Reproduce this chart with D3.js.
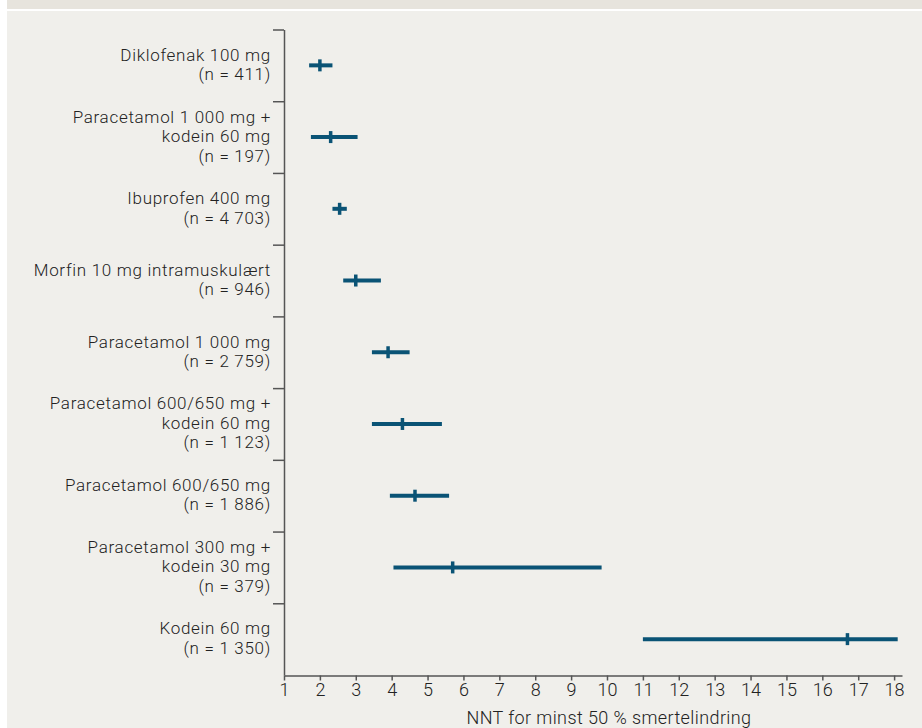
<!DOCTYPE html>
<html>
<head>
<meta charset="utf-8">
<script src="https://cdn.jsdelivr.net/npm/d3@7"></script>
<style>
  html, body { margin: 0; padding: 0; background: #fff; }
  svg text { font-family: Roboto, "Liberation Sans", sans-serif; font-weight: 300; fill: #222; }
</style>
</head>
<body>
<svg id="chart" width="922" height="728"></svg>
<script>
// treatment labels (one entry per line of text)
const labels = [
  ["Diklofenak 100 mg", "(n = 411)"],
  ["Paracetamol 1 000 mg +", "kodein 60 mg", "(n = 197)"],
  ["Ibuprofen 400 mg", "(n = 4 703)"],
  ["Morfin 10 mg intramuskulært", "(n = 946)"],
  ["Paracetamol 1 000 mg", "(n = 2 759)"],
  ["Paracetamol 600/650 mg +", "kodein 60 mg", "(n = 1 123)"],
  ["Paracetamol 600/650 mg", "(n = 1 886)"],
  ["Paracetamol 300 mg +", "kodein 30 mg", "(n = 379)"],
  ["Kodein 60 mg", "(n = 1 350)"]
];
// NNT point estimates and confidence limits
const nnt   = [2.0, 2.3, 2.55, 3.0, 3.9, 4.3, 4.65, 5.7, 16.7];
const lower = [1.7, 1.75, 2.35, 2.65, 3.45, 3.45, 3.95, 4.05, 11.0];
const upper = [2.35, 3.05, 2.75, 3.7, 4.5, 5.4, 5.6, 9.85, 18.1];
const xTicks = d3.range(1, 19);
const xTitle = "NNT for minst 50 % smertelindring";

const rows = labels.map((l, i) => ({ label: l, nnt: nnt[i], lo: lower[i], hi: upper[i] }));

const svg = d3.select("#chart");
const barColor = "#0a5375";
const axisColor = "#555";

// backgrounds
svg.append("rect").attr("x", 7).attr("y", 0).attr("width", 915).attr("height", 9).attr("fill", "#e7e4dd");
svg.append("rect").attr("x", 7).attr("y", 11).attr("width", 915).attr("height", 717).attr("fill", "#f0efeb");

const x = d3.scaleLinear().domain([1, 18.22]).range([284, 902]);
const y = d3.scaleBand().domain(d3.range(rows.length)).range([29.5, 675]);
const yEdge = d3.scaleLinear().domain([0, rows.length]).range([29.5, 675]);

// y axis: line with ticks at the row boundaries
const yAxis = svg.append("g")
  .attr("transform", "translate(284,0)")
  .call(d3.axisLeft(yEdge).tickValues(d3.range(0, rows.length)).tickSize(11).tickSizeOuter(0).tickFormat(""));
yAxis.select(".domain").attr("stroke", axisColor).attr("stroke-width", 1.5);
yAxis.selectAll(".tick line").attr("stroke", axisColor).attr("stroke-width", 1.5);

// x axis
const xAxis = svg.append("g")
  .attr("transform", "translate(0,675.5)")
  .call(d3.axisBottom(x).tickValues(xTicks).tickSize(5).tickSizeOuter(0).tickPadding(3).tickFormat(d3.format("d")));
xAxis.select(".domain").attr("stroke", axisColor).attr("stroke-width", 1.5);
xAxis.selectAll(".tick text")
  .attr("font-size", "18px")
  .attr("font-family", "Roboto, 'Liberation Sans', sans-serif")
  .attr("font-weight", 300)
  .attr("fill", "#222");
xAxis.selectAll(".tick line").attr("stroke", axisColor).attr("stroke-width", 1.5);

svg.append("text")
  .attr("x", 609)
  .attr("y", 724)
  .attr("text-anchor", "middle")
  .attr("font-size", "18px")
  .attr("letter-spacing", "0.4px")
  .text(xTitle);

// row labels
const lineH = 19.5;
const labelG = svg.append("g").selectAll("text").data(rows).join("text")
  .attr("text-anchor", "end")
  .attr("font-size", "17px")
  .attr("letter-spacing", "0.7px")
  .attr("transform", (d, i) => {
    const n = d.label.length;
    const cy = y(i) + y.bandwidth() / 2;
    return `translate(271,${cy - (n - 1) * lineH / 2 + 5})`;
  });
labelG.selectAll("tspan").data(d => d.label).join("tspan")
  .attr("x", 0)
  .attr("dy", (d, j) => j === 0 ? 0 : lineH)
  .text(d => d);

// confidence intervals and point estimates
const marks = svg.append("g").selectAll("g").data(rows).join("g");
marks.append("line")
  .attr("x1", d => x(d.lo))
  .attr("x2", d => x(d.hi))
  .attr("y1", (d, i) => y(i) + y.bandwidth() / 2)
  .attr("y2", (d, i) => y(i) + y.bandwidth() / 2)
  .attr("stroke", barColor)
  .attr("stroke-width", 4);
marks.append("line")
  .attr("x1", d => x(d.nnt))
  .attr("x2", d => x(d.nnt))
  .attr("y1", (d, i) => y(i) + y.bandwidth() / 2 - 6)
  .attr("y2", (d, i) => y(i) + y.bandwidth() / 2 + 6)
  .attr("stroke", barColor)
  .attr("stroke-width", 3.5);
</script>
</body>
</html>
